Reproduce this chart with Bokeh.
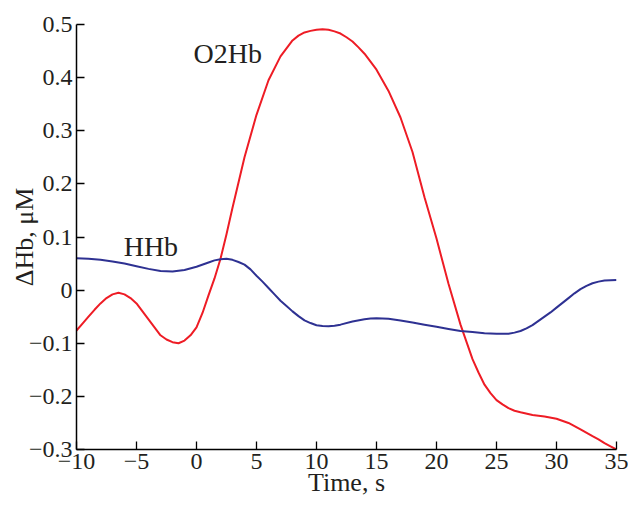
from bokeh.plotting import figure
from bokeh.models import Range1d, FixedTicker, Label
from bokeh.embed import file_html
from bokeh.resources import INLINE

# O2Hb series (time in s, change in uM)
time_o2 = [-10, -9.5, -9, -8.5, -8, -7.5, -7, -6.5, -6, -5.5, -5, -4.5, -4, -3.5, -3, -2.5,
           -2, -1.5, -1, -0.5, 0, 0.5, 1, 1.5, 2, 2.5, 3, 4, 5, 6, 7, 8, 8.5, 9, 9.5,
           10, 10.5, 11, 11.5, 12, 12.5, 13, 13.5, 14, 15, 16, 17, 18, 19, 20, 21, 22, 23,
           23.5, 24, 24.5, 25, 25.5, 26, 26.5, 27, 28, 29, 30, 31, 31.5, 32, 33, 33.5, 34,
           34.5, 35]
o2hb = [-0.076, -0.063, -0.05, -0.037, -0.025, -0.015, -0.008, -0.005, -0.008, -0.015,
        -0.025, -0.04, -0.055, -0.07, -0.085, -0.093, -0.098, -0.1, -0.095, -0.085, -0.07,
        -0.043, -0.01, 0.022, 0.059, 0.105, 0.155, 0.25, 0.33, 0.395, 0.44, 0.47, 0.479,
        0.485, 0.488, 0.49, 0.491, 0.49, 0.487, 0.483, 0.476, 0.468, 0.457, 0.445, 0.415,
        0.375, 0.325, 0.26, 0.175, 0.097, 0.012, -0.065, -0.13, -0.155, -0.178, -0.194,
        -0.207, -0.215, -0.222, -0.227, -0.23, -0.235, -0.238, -0.242, -0.25, -0.256,
        -0.262, -0.275, -0.281, -0.288, -0.294, -0.3]

# HHb series
time_h = [-10, -9, -8, -7, -6, -5, -4, -3, -2, -1, 0, 1, 1.5, 2, 2.5, 3, 3.5, 4, 4.5, 5,
          5.5, 6, 6.5, 7, 7.5, 8, 8.5, 9, 9.5, 10, 10.5, 11, 11.5, 12, 13, 14, 14.5, 15,
          15.5, 16, 17, 18, 19, 20, 21, 22, 23, 24, 25, 26, 26.5, 27, 27.5, 28, 28.5, 29,
          29.5, 30, 31, 31.5, 32, 32.5, 33, 33.5, 34, 34.5, 35]
hhb = [0.060, 0.059, 0.057, 0.054, 0.050, 0.045, 0.040, 0.036, 0.035, 0.038, 0.044, 0.052,
       0.056, 0.058, 0.059, 0.057, 0.053, 0.048, 0.039, 0.027, 0.016, 0.004, -0.008, -0.02,
       -0.03, -0.04, -0.049, -0.057, -0.062, -0.066, -0.0675, -0.068, -0.067, -0.065,
       -0.059, -0.055, -0.0535, -0.053, -0.0532, -0.054, -0.057, -0.061, -0.065, -0.069,
       -0.073, -0.077, -0.079, -0.081, -0.082, -0.082, -0.08, -0.077, -0.072, -0.066,
       -0.058, -0.05, -0.042, -0.033, -0.015, -0.006, 0.002, 0.008, 0.013, 0.016, 0.018,
       0.0185, 0.019]

x_ticks = [-10, -5, 0, 5, 10, 15, 20, 25, 30, 35]
y_ticks = [-0.3, -0.2, -0.1, 0, 0.1, 0.2, 0.3, 0.4, 0.5]

def fmt(v):
    s = ("%g" % round(v, 3))
    return s.replace("-", "\u2212")

FONT = "Liberation Serif"
TXT = "#231f20"

p = figure(width=628, height=505, output_backend="svg", toolbar_location=None,
           x_range=Range1d(-10, 35), y_range=Range1d(-0.3, 0.5),
           min_border_left=76, min_border_right=12, min_border_top=24, min_border_bottom=56)
p.outline_line_color = None
p.grid.visible = False
p.background_fill_color = "white"
p.border_fill_color = "white"

for ax, ticks in ((p.xaxis[0], x_ticks), (p.yaxis[0], y_ticks)):
    ax.ticker = FixedTicker(ticks=ticks)
    ax.major_label_overrides = {t: fmt(t) for t in ticks}
    ax.major_tick_in = 8
    ax.major_tick_out = 0
    ax.minor_tick_line_color = None
    ax.axis_line_color = "black"
    ax.axis_line_width = 1.5
    ax.major_tick_line_color = "black"
    ax.major_tick_line_width = 1.3
    ax.major_label_text_font = FONT
    ax.major_label_text_font_size = "24px"
    ax.major_label_text_color = TXT
    ax.major_label_standoff = 4
    ax.axis_label_text_font = FONT
    ax.axis_label_text_font_size = "26px"
    ax.axis_label_text_font_style = "normal"
    ax.axis_label_text_color = TXT

p.xaxis[0].axis_label = "Time, s"
p.xaxis[0].axis_label_standoff = -4
p.yaxis[0].axis_label = "\u0394Hb, \u03bcM"
p.yaxis[0].axis_label_standoff = -13

p.line(time_o2, o2hb, line_color="#ee1c25", line_width=2, line_join="round")
p.line(time_h, hhb, line_color="#2e3192", line_width=2, line_join="round")

for txt, x, y in (("O2Hb", 2.6, 0.446), ("HHb", -3.8, 0.082)):
    p.add_layout(Label(x=x, y=y, text=txt, text_font=FONT, text_font_size="28px",
                       text_color=TXT, text_align="center", text_baseline="middle"))

open("out.html", "w").write(file_html(p, INLINE))
